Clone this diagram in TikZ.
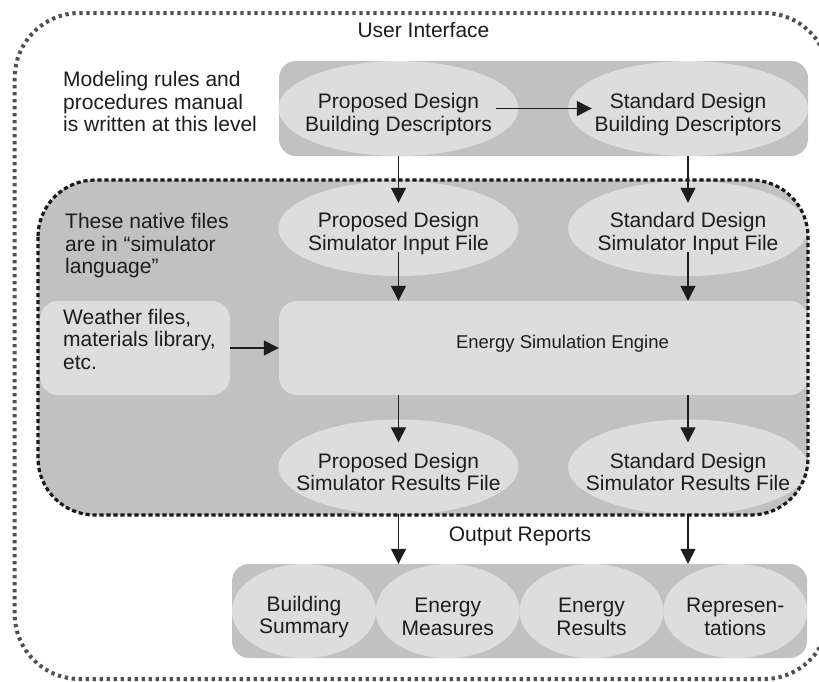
\documentclass[tikz,border=0pt]{standalone}
\usepackage{fontspec}
\setmainfont{Liberation Sans}
\usetikzlibrary{arrows.meta,shapes.geometric}
\definecolor{band}{RGB}{193,193,193}
\definecolor{lite}{RGB}{221,221,221}
\definecolor{ink}{RGB}{30,28,28}
\definecolor{dotgray}{RGB}{80,80,80}
\begin{document}
\begin{tikzpicture}[x=1pt,y=-1pt,
  txt/.style={font=\fontsize{21}{22.5}\selectfont, text=ink, inner sep=0pt},
  engtxt/.style={font=\fontsize{18.5}{21}\selectfont, text=ink, inner sep=0pt},
  bandbox/.style={rectangle, fill=band, rounded corners=17pt, inner sep=0pt},
  litebox/.style={rectangle, fill=lite, rounded corners=18pt, inner sep=0pt},
  oval/.style={ellipse, fill=lite, inner sep=0pt, minimum width=240pt, minimum height=95pt},
  smalloval/.style={ellipse, fill=lite, inner sep=0pt, minimum width=144pt, minimum height=94pt},
  arr/.style={draw=ink, line width=1.3pt, -{Triangle[length=15pt,width=15pt]}},
  outerline/.style={draw=dotgray, line width=4pt, dash pattern=on 3.3pt off 3.7pt, rounded corners=65pt},
  innerline/.style={draw=black!90, line width=3.2pt, dash pattern=on 4.2pt off 2.8pt, rounded corners=57pt}
]
\useasboundingbox (0,0) rectangle (819,681);
% outer user interface frame
\path[outerline] (14.7,13) rectangle (829,679);
\node[txt, anchor=base] (ui) at (423.5,37) {User Interface};
% top band
\node[bandbox, minimum width=529pt, minimum height=95pt] (topband) at (543.5,108.5) {};
\node[oval] (pbd) at (398.5,108.5) {};
\node[oval] (sbd) at (688,108.5) {};
\node[txt, align=center] (pbdt) at ([yshift=-6pt]pbd.center) {Proposed Design\\Building Descriptors};
\node[txt, align=center] (sbdt) at ([yshift=-6pt]sbd.center) {Standard Design\\Building Descriptors};
\node[txt, align=left, anchor=base west] (note1) at (63,131.5) {Modeling rules and\\procedures manual\\is written at this level};
% simulator region
\fill[band, rounded corners=57pt] (38,180) rectangle (808,515);
\node[oval] (psi) at (398.5,228.5) {};
\node[oval] (ssi) at (688,228.5) {};
\node[txt, align=center] (psit) at ([yshift=-5pt]psi.center) {Proposed Design\\Simulator Input File};
\node[txt, align=center] (ssit) at ([yshift=-5pt]ssi.center) {Standard Design\\Simulator Input File};
\node[txt, align=left, anchor=base west] (note2) at (65,273.5) {These native files\\are in “simulator\\language”};
\node[litebox, minimum width=529pt, minimum height=94pt] (eng) at (543.5,348) {};
\node[engtxt, anchor=base] (engt) at (562.5,348.5) {Energy Simulation Engine};
\node[litebox, minimum width=190pt, minimum height=94pt] (wea) at (135,348) {};
\node[txt, align=left, anchor=base west] (weat) at (63,369) {Weather files,\\materials library,\\etc.};
\node[oval] (pro) at (398.5,467) {};
\node[oval] (sro) at (688,467) {};
\node[txt, align=center] (prot) at ([yshift=-5pt]pro.center) {Proposed Design\\Simulator Results File};
\node[txt, align=center] (srot) at ([yshift=-5pt]sro.center) {Standard Design\\Simulator Results File};
\path[innerline] (38,180) rectangle (808,515);
% output reports
\node[txt, anchor=base] (ort) at (520,541) {Output Reports};
\node[bandbox, minimum width=575pt, minimum height=94pt] (outband) at (519.5,611) {};
\node[smalloval] (bs) at (304,611) {};
\node[smalloval] (em) at (447.75,611) {};
\node[smalloval] (er) at (591.5,611) {};
\node[smalloval] (rp) at (735.25,611) {};
\node[txt, align=center] (bst) at ([yshift=-6pt]bs.center) {Building\\Summary};
\node[txt, align=center] (emt) at ([yshift=-6pt]em.center) {Energy\\Measures};
\node[txt, align=center] (ert) at ([yshift=-6pt]er.center) {Energy\\Results};
\node[txt, align=center] (rpt) at ([yshift=-6pt]rp.center) {Represen-\\tations};
% connectors
\draw[arr] ([xshift=-23pt]pbd.east) -- ([xshift=24pt]sbd.west);
\draw[arr] (pbd.south) -- ([yshift=-22pt]psi.north);
\draw[arr] (sbd.south) -- ([yshift=-22pt]ssi.north);
\draw[arr] ([yshift=24pt]psi.south) -- (psi.south |- eng.north);
\draw[arr] ([yshift=24pt]ssi.south) -- (ssi.south |- eng.north);
\draw[arr] (wea.east) -- (eng.west);
\draw[arr] (pro.north |- eng.south) -- ([yshift=-23pt]pro.north);
\draw[arr] (sro.north |- eng.south) -- ([yshift=-23pt]sro.north);
\draw[arr] ([yshift=1pt]pro.south) -- (pro.south |- outband.north);
\draw[arr] ([yshift=1pt]sro.south) -- (sro.south |- outband.north);
\end{tikzpicture}
\end{document}
